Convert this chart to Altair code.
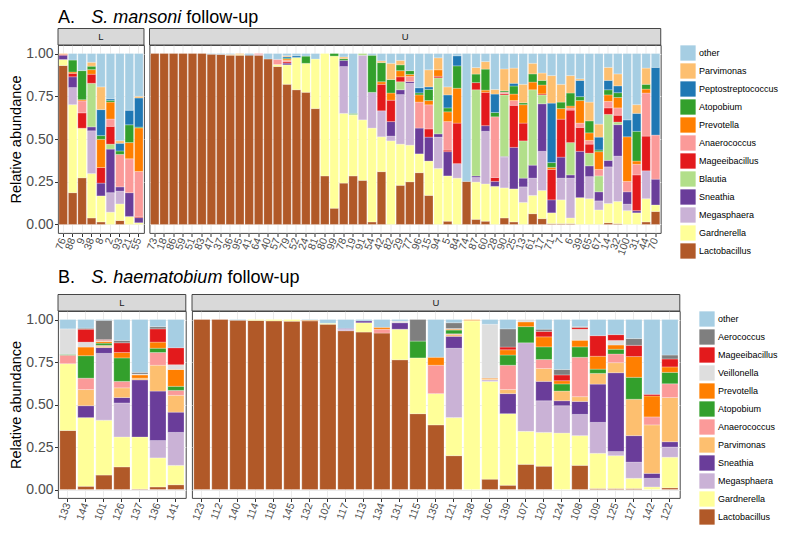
import altair as alt
import pandas as pd

FONT = "Liberation Sans"

# ---------------- Panel A: S. mansoni follow-up ----------------
A_SAMPLES_L = ["76", "88", "9", "38", "8", "2", "93", "21", "55"]
A_SAMPLES_U = ["73", "18", "86", "59", "51", "83", "47", "37", "36", "95", "41", "64", "40", "57", "79", "52", "24", "81", "80", "99",
               "78", "19", "91", "54", "42", "82", "29", "77", "96", "15", "94", "5", "84", "74", "87", "60", "28", "90", "25", "13",
               "61", "17", "71", "7", "6", "39", "65", "67", "14", "32", "100", "31", "44", "70"]

# stack order bottom -> top
A_STACK = ["Lactobacillus", "Gardnerella", "Megasphaera", "Sneathia", "Blautia", "Mageeibacillus",
           "Anaerococcus", "Prevotella", "Atopobium", "Peptostreptococcus", "Parvimonas", "other"]
A_LEGEND = ["other", "Parvimonas", "Peptostreptococcus", "Atopobium", "Prevotella", "Anaerococcus",
            "Mageeibacillus", "Blautia", "Sneathia", "Megasphaera", "Gardnerella", "Lactobacillus"]
A_COLORS = ["#A6CEE3", "#FDBF6F", "#1F78B4", "#33A02C", "#FF7F00", "#FB9A99",
            "#E31A1C", "#B2DF8A", "#6A3D9A", "#CAB2D6", "#FFFF99", "#B15928"]

A_LACTOBACILLUS = [0.93, 0.186, 0.273, 0.038, 0.015, 0, 0.023, 0, 0,
                   1, 1, 1, 1, 1, 1, 0.996, 0.995, 0.99, 0.99, 0.99, 0.99, 0.968, 0.924, 0.82, 0.788, 0.773, 0.678, 0.284, 0.095,
                   0.242, 0.284, 0.258, 0.015, 0.309, 0, 0.229, 0.25, 0.303, 0.17,
                   0, 0.019, 0, 0.252, 0.03, 0.019, 0, 0.038, 0.015, 0,
                   0.063, 0.034, 0.005, 0.005, 0.005, 0, 0, 0, 0.01, 0.005,
                   0, 0, 0.015, 0.076]
A_GARDNERELLA = [0.035, 0.515, 0.29, 0.26, 0.152, 0.072, 0.097, 0.047, 0.01,
                 0, 0, 0, 0, 0, 0, 0, 0, 0, 0.005, 0, 0, 0, 0.012, 0.114, 0.189, 0.17, 0.29, 0.716, 0.89,
                 0.408, 0.356, 0.354, 0.549, 0.204, 0.489, 0.241, 0.214, 0.11, 0.201,
                 0.328, 0.265, 0.271, 0, 0.218, 0.218, 0.223, 0.176, 0.193, 0.129,
                 0.107, 0.165, 0.063, 0.139, 0.033, 0.157, 0.151, 0.085, 0.113, 0.13,
                 0.081, 0.068, 0.136, 0.038]
A_MEGASPHAERA = [0, 0.10, 0, 0.25, 0, 0.114, 0.075, 0, 0,
                 0, 0, 0, 0, 0, 0, 0, 0, 0, 0, 0, 0.005, 0, 0, 0, 0, 0, 0, 0, 0,
                 0.274, 0, 0.378, 0.209, 0.152, 0.028, 0.29, 0.362, 0, 0,
                 0.183, 0, 0.085, 0, 0.027, 0.308, 0, 0.18, 0, 0.091,
                 0.101, 0.229, 0, 0.127, 0.233, 0, 0.129, 0.053, 0.214, 0.265,
                 0.038, 0, 0.163, 0]
A_SNEATHIA = [0.025, 0.063, 0, 0.023, 0.075, 0.255, 0.025, 0.139, 0.03,
              0, 0, 0, 0, 0, 0, 0, 0, 0, 0, 0, 0, 0, 0, 0.01, 0, 0, 0, 0, 0,
              0.036, 0, 0, 0, 0, 0.085, 0.028, 0.01, 0.151, 0.14,
              0.019, 0.142, 0, 0, 0.009, 0.033, 0.029, 0.004, 0.243, 0.051,
              0.076, 0.278, 0.076, 0.123, 0.019, 0.271, 0.063, 0.053, 0.038, 0.184,
              0.072, 0.013, 0, 0.151]
A_BLAUTIA = [0, 0, 0, 0.255, 0, 0.029, 0, 0, 0,
             0, 0, 0, 0, 0, 0, 0, 0, 0, 0, 0, 0, 0, 0, 0, 0, 0, 0, 0, 0,
             0, 0.005, 0.01, 0, 0, 0, 0.047, 0, 0, 0,
             0.328, 0, 0, 0, 0.504, 0, 0, 0.36, 0, 0.218,
             0.441, 0.052, 0, 0, 0.189, 0, 0.074, 0.093, 0.269, 0.015,
             0, 0, 0, 0]
A_MAGEEIBACILLUS = [0.005, 0.02, 0.09, 0.053, 0.091, 0.104, 0, 0, 0.007,
                    0, 0, 0, 0, 0, 0, 0, 0, 0, 0, 0, 0, 0, 0, 0.008, 0, 0, 0, 0, 0,
                    0, 0, 0, 0, 0.155, 0.125, 0.029, 0, 0, 0.048,
                    0.009, 0.009, 0.237, 0, 0.042, 0.195, 0.023, 0.008, 0.246, 0.104,
                    0, 0.006, 0.178, 0.222, 0.19, 0.14, 0.053, 0, 0.038, 0.04,
                    0, 0.209, 0.203, 0]
A_ANAEROCOCCUS = [0, 0, 0.07, 0, 0, 0.043, 0.19, 0.198, 0.263,
                  0, 0, 0, 0, 0, 0, 0, 0, 0, 0, 0, 0.005, 0, 0.03, 0.008, 0, 0, 0, 0, 0,
                  0, 0, 0, 0, 0, 0, 0, 0.03, 0.152, 0.141,
                  0, 0.167, 0, 0, 0, 0, 0.355, 0.008, 0.028, 0,
                  0, 0, 0, 0, 0.013, 0.025, 0.022, 0.038, 0.038, 0.043,
                  0.061, 0.062, 0.252, 0.258]
A_PREVOTELLA = [0, 0.008, 0.007, 0.027, 0.165, 0.099, 0, 0.095, 0.255,
                0, 0, 0, 0, 0, 0, 0, 0, 0, 0, 0, 0, 0, 0, 0.008, 0, 0, 0, 0, 0,
                0, 0, 0, 0, 0.015, 0.042, 0.036, 0.012, 0.042, 0.025,
                0.038, 0.057, 0.204, 0, 0, 0.013, 0, 0, 0.038, 0.108,
                0.045, 0.052, 0.012, 0.062, 0.011, 0.132, 0.044, 0.104, 0.038, 0.061,
                0.261, 0.019, 0.023, 0]
A_ATOPOBIUM = [0, 0.07, 0.17, 0.02, 0.022, 0.01, 0.02, 0.104, 0.005,
               0, 0, 0, 0, 0, 0, 0, 0, 0, 0, 0, 0, 0, 0, 0.005, 0, 0.042, 0, 0, 0.015,
               0.01, 0.005, 0, 0.217, 0.112, 0.079, 0.034, 0.022, 0.012, 0.065,
               0, 0.023, 0.131, 0, 0.05, 0.123, 0.025, 0.008, 0.047, 0.011,
               0.048, 0.027, 0.028, 0.038, 0.076, 0.023, 0.07, 0.01, 0.03, 0.028,
               0, 0.174, 0.028, 0]
A_PEPTOSTREPTOCOCCUS = [0, 0, 0, 0, 0.152, 0.009, 0.045, 0.085, 0.17,
                        0, 0, 0, 0, 0, 0, 0, 0, 0, 0, 0.005, 0, 0, 0, 0.008, 0.01, 0, 0, 0, 0,
                        0, 0, 0, 0, 0, 0, 0, 0, 0.03, 0.015,
                        0, 0.076, 0.059, 0, 0, 0, 0.108, 0, 0.016, 0,
                        0, 0, 0.348, 0, 0, 0.095, 0, 0.075, 0.055, 0.04,
                        0.099, 0.105, 0, 0.396]
A_PARVIMONAS = [0.005, 0, 0, 0.023, 0.133, 0, 0.015, 0, 0.01,
                0, 0, 0, 0, 0, 0, 0, 0, 0.005, 0.005, 0, 0, 0, 0, 0.006, 0, 0, 0, 0, 0,
                0.01, 0, 0, 0, 0.01, 0.095, 0.026, 0, 0, 0.1,
                0.07, 0.047, 0, 0, 0.038, 0.044, 0.027, 0.128, 0.089, 0.108,
                0.062, 0.043, 0.161, 0.104, 0.102, 0.009, 0.11, 0.076, 0.076, 0.07,
                0, 0.051, 0.095, 0]
A_OTHER = [0, 0.038, 0.10, 0.051, 0.195, 0.265, 0.51, 0.332, 0.25,
           0, 0, 0, 0, 0, 0, 0.004, 0.005, 0.005, 0, 0.005, 0, 0.032, 0.034, 0.013, 0.013, 0.015, 0.032, 0, 0,
           0.02, 0.35, 0, 0.01, 0.043, 0.057, 0.04, 0.1, 0.2, 0.095,
           0.025, 0.195, 0.013, 0.748, 0.082, 0.047, 0.21, 0.09, 0.085, 0.18,
           0.057, 0.114, 0.129, 0.18, 0.129, 0.148, 0.284, 0.413, 0.081, 0.119,
           0.388, 0.299, 0.085, 0.081]

# ---------------- Panel B: S. haematobium follow-up ----------------
B_SAMPLES_L = ["133", "144", "101", "126", "137", "136", "141"]
B_SAMPLES_U = ["123", "112", "140", "114", "118", "145", "132", "102", "117", "113",
               "134", "131", "115", "135", "121", "138", "106", "139", "107", "120",
               "124", "108", "109", "125", "127", "142", "122"]

B_STACK = ["Lactobacillus", "Gardnerella", "Megasphaera", "Sneathia", "Parvimonas", "Anaerococcus",
           "Atopobium", "Prevotella", "Veillonella", "Mageeibacillus", "Aerococcus", "other"]
B_LEGEND = ["other", "Aerococcus", "Mageeibacillus", "Veillonella", "Prevotella", "Atopobium",
            "Anaerococcus", "Parvimonas", "Sneathia", "Megasphaera", "Gardnerella", "Lactobacillus"]
B_COLORS = ["#A6CEE3", "#7F7F7F", "#E31A1C", "#DEDEDE", "#FF7F00", "#33A02C",
            "#FB9A99", "#FDBF6F", "#6A3D9A", "#CAB2D6", "#FFFF99", "#B15928"]

B_LACTOBACILLUS = [0.347, 0.019, 0.085, 0.133, 0.003, 0.015, 0.028,
                   1.0, 1.0, 0.996, 0.994, 0.992, 0.99, 0.992, 0.972, 0.934, 0.926,
                   0.92, 0.763, 0.446, 0.38, 0.199, 0, 0.061, 0.025, 0.148, 0.137,
                   0, 0.142, 0.006, 0.006, 0.006, 0, 0.01]
B_GARDNERELLA = [0.393, 0.404, 0.323, 0.176, 0.306, 0.171, 0.114,
                 0, 0, 0, 0.006, 0.008, 0.01, 0, 0.006, 0, 0.055,
                 0, 0.18, 0.328, 0.184, 0.224, 0.992, 0.575, 0.421, 0.194, 0.199,
                 0.332, 0.175, 0.207, 0.193, 0.06, 0.015, 0.18]
B_MEGASPHAERA = [0, 0, 0.393, 0.2, 0, 0.102, 0.194,
                 0, 0, 0, 0, 0, 0, 0, 0, 0.01, 0,
                 0, 0, 0, 0, 0.408, 0, 0.009, 0, 0.521, 0.186,
                 0.161, 0.125, 0.182, 0.025, 0.095, 0.051, 0.06]
B_SNEATHIA = [0, 0.07, 0.034, 0.032, 0.336, 0.291, 0.119,
              0, 0, 0, 0, 0, 0, 0, 0, 0.004, 0.011,
              0, 0.038, 0, 0, 0.07, 0, 0, 0.118, 0, 0.114,
              0.029, 0.076, 0.225, 0.463, 0.156, 0.029, 0.031]
B_PARVIMONAS = [0, 0.095, 0.008, 0.057, 0.01, 0.152, 0.099,
                0, 0, 0, 0, 0, 0, 0, 0, 0, 0,
                0, 0, 0, 0, 0.01, 0.008, 0.005, 0.024, 0, 0.076,
                0.057, 0.028, 0.063, 0.059, 0.214, 0.285, 0.26]
B_ANAEROCOCCUS = [0.05, 0.067, 0.005, 0.038, 0, 0.075, 0.029,
                  0, 0, 0, 0, 0, 0, 0, 0, 0, 0,
                  0.023, 0, 0, 0.167, 0.005, 0, 0, 0.143, 0, 0.053,
                  0, 0.232, 0, 0.051, 0, 0.047, 0.081]
B_ATOPOBIUM = [0.005, 0.132, 0.013, 0.138, 0, 0.025, 0.024,
               0, 0, 0, 0, 0, 0, 0, 0, 0, 0,
               0, 0, 0.099, 0, 0.022, 0, 0, 0.06, 0.095, 0.074,
               0.042, 0.061, 0.025, 0.028, 0.129, 0, 0.067]
B_PREVOTELLA = [0, 0.051, 0.01, 0.032, 0.019, 0.036, 0.099,
                0, 0, 0, 0, 0, 0, 0.004, 0, 0, 0,
                0.011, 0, 0, 0.047, 0.005, 0, 0.005, 0.031, 0.028, 0.059,
                0.019, 0.039, 0.076, 0.025, 0.122, 0.123, 0.032]
B_VEILLONELLA = [0.15, 0.029, 0.006, 0, 0.005, 0, 0.028,
                 0, 0, 0, 0, 0, 0, 0, 0, 0, 0,
                 0, 0.01, 0, 0, 0.004, 0, 0.317, 0, 0.014, 0,
                 0, 0.065, 0, 0.027, 0, 0, 0]
B_MAGEEIBACILLUS = [0, 0.076, 0.005, 0.057, 0, 0.078, 0.1,
                    0, 0, 0, 0, 0, 0, 0, 0, 0, 0,
                    0, 0, 0, 0, 0, 0, 0, 0.016, 0, 0.032,
                    0.034, 0.01, 0.121, 0.034, 0.066, 0.01, 0.047]
B_AEROCOCCUS = [0, 0.006, 0.113, 0.014, 0.01, 0.013, 0,
                0, 0, 0, 0, 0, 0, 0, 0, 0, 0,
                0, 0, 0.127, 0, 0.034, 0, 0, 0.107, 0, 0.013,
                0.032, 0.005, 0, 0, 0.04, 0, 0.023]
B_OTHER = [0.055, 0.051, 0.005, 0.123, 0.311, 0.042, 0.166,
           0, 0, 0.004, 0, 0, 0, 0.004, 0.022, 0.052, 0.008,
           0.046, 0.009, 0, 0.222, 0.019, 0, 0.028, 0.055, 0, 0.057,
           0.294, 0.042, 0.095, 0.089, 0.112, 0.44, 0.209]

A_SERIES = [A_LACTOBACILLUS, A_GARDNERELLA, A_MEGASPHAERA, A_SNEATHIA, A_BLAUTIA, A_MAGEEIBACILLUS,
            A_ANAEROCOCCUS, A_PREVOTELLA, A_ATOPOBIUM, A_PEPTOSTREPTOCOCCUS, A_PARVIMONAS, A_OTHER]
B_SERIES = [B_LACTOBACILLUS, B_GARDNERELLA, B_MEGASPHAERA, B_SNEATHIA, B_PARVIMONAS, B_ANAEROCOCCUS,
            B_ATOPOBIUM, B_PREVOTELLA, B_VEILLONELLA, B_MAGEEIBACILLUS, B_AEROCOCCUS, B_OTHER]


def long_table(samples_l, samples_u, stack, series):
    samples = samples_l + samples_u
    groups = ["L"] * len(samples_l) + ["U"] * len(samples_u)
    rows = []
    for k, (genus, vals) in enumerate(zip(stack, series)):
        for s, g, v in zip(samples, groups, vals):
            if v > 0:
                rows.append({"sample": s, "group": g, "genus": genus, "value": v, "ord": k})
    return pd.DataFrame(rows)


YVALS = [0, 0.25, 0.5, 0.75, 1]


def facet(df, group, samples, step, height, legend_dom, legend_cols, first, title=None):
    n = len(samples)
    width = round(step * (n + 0.1), 2)
    if first:
        yaxis = alt.Axis(values=YVALS, format=".2f", labelFontSize=14, labelColor="#4D4D4D",
                         tickColor="#333333", tickSize=3.5, labelPadding=1.5, domain=False,
                         grid=True, gridColor="#EBEBEB", title="Relative abundance",
                         titleFontSize=14.5, titleFontWeight="normal", titleColor="black", titlePadding=2)
    else:
        yaxis = alt.Axis(values=YVALS, labels=False, ticks=False, domain=False, grid=True,
                         gridColor="#EBEBEB", title=None)
    bars = alt.Chart(df[df["group"] == group]).mark_bar(stroke="white", strokeWidth=0.25).encode(
        x=alt.X("sample:N", sort=samples, title=None,
                scale=alt.Scale(paddingInner=0.1, paddingOuter=0.1),
                axis=alt.Axis(labelAngle=-70, labelFontSize=10.5, labelColor="#4D4D4D",
                              tickColor="#333333", tickSize=3.5, labelPadding=1.5, domain=False,
                              grid=True, gridColor="#EBEBEB")),
        y=alt.Y("value:Q", stack="zero",
                scale=alt.Scale(domain=[-0.05, 1.05], nice=False, zero=False), axis=yaxis),
        color=alt.Color("genus:N", scale=alt.Scale(domain=legend_dom, range=legend_cols),
                        legend=alt.Legend(title=None, symbolType="square", symbolSize=234,
                                          symbolStrokeWidth=0, labelFontSize=9, labelColor="black",
                                          labelOffset=3, rowPadding=2, offset=18, padding=0)),
        order=alt.Order("ord:Q", sort="ascending"),
    )
    strip_df = pd.DataFrame({"lab": [group]})
    strip = alt.Chart(strip_df).mark_rect(fill="#D9D9D9", stroke="#333333", strokeWidth=0.9).encode(
        x=alt.value(0), x2=alt.value(width), y=alt.value(-16.5), y2=alt.value(0))
    strip_txt = alt.Chart(strip_df).mark_text(fontSize=9.5, color="#1A1A1A").encode(
        x=alt.value(width / 2), y=alt.value(-8.25), text="lab:N")
    layers = [bars, strip, strip_txt]
    if title:
        for txt, xpos, style in title["parts"]:
            layers.append(
                alt.Chart(pd.DataFrame({"t": [txt]})).mark_text(
                    align="left", baseline="alphabetic", fontSize=18, fontStyle=style, color="black"
                ).encode(x=alt.value(xpos), y=alt.value(title["y"]), text="t:N"))
    return alt.layer(*layers).properties(width=width, height=height)


A_df = long_table(A_SAMPLES_L, A_SAMPLES_U, A_STACK, A_SERIES)
B_df = long_table(B_SAMPLES_L, B_SAMPLES_U, B_STACK, B_SERIES)

A_TITLE = {"y": -22.5, "parts": [("A.", 0, "normal"), ("S. mansoni", 33.3, "italic"), ("follow-up", 128.3, "normal")]}
B_TITLE = {"y": -28, "parts": [("B.", 0, "normal"), ("S. haematobium", 33.3, "italic"), ("follow-up", 169.4, "normal")]}

A_STEP, B_STEP = 9.45, 18.0

chart_a = alt.hconcat(
    facet(A_df, "L", A_SAMPLES_L, A_STEP, 188, A_LEGEND, A_COLORS, True, A_TITLE),
    facet(A_df, "U", A_SAMPLES_U, A_STEP, 188, A_LEGEND, A_COLORS, False),
    spacing=5.5, bounds="flush",
).resolve_scale(x="independent", y="independent", color="shared")

chart_b = alt.hconcat(
    facet(B_df, "L", B_SAMPLES_L, B_STEP, 187, B_LEGEND, B_COLORS, True, B_TITLE),
    facet(B_df, "U", B_SAMPLES_U, B_STEP, 187, B_LEGEND, B_COLORS, False),
    spacing=6, bounds="flush",
).resolve_scale(x="independent", y="independent", color="shared")

chart = alt.vconcat(chart_a, chart_b, spacing=9).resolve_scale(
    color="independent"
).properties(
    padding={"left": 0, "top": 0, "right": 0, "bottom": 0}
).configure(
    font=FONT
).configure_view(
    stroke="#333333", strokeWidth=0.9
)

chart.save("out.html", embed_options={"renderer": "svg", "actions": False})
